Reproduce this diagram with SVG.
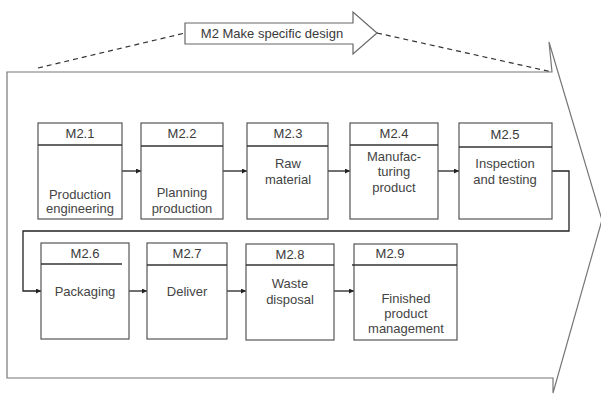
<svg xmlns="http://www.w3.org/2000/svg" width="601" height="403" viewBox="0 0 601 403">
<style>
.box{fill:#fff;stroke:#555;stroke-width:1.2}
.hl{stroke:#333;stroke-width:1.3}
.t{font-family:"Liberation Sans",Arial,sans-serif;font-size:13px;fill:#3a3a3a;text-anchor:middle}
.b{font-family:"Liberation Sans",Arial,sans-serif;font-size:13px;fill:#444;text-anchor:middle}
.c{fill:none;stroke:#222;stroke-width:1.3}
.d{fill:none;stroke:#333;stroke-width:1.2;stroke-dasharray:5,4}
</style>
<defs>
<marker id="ah" viewBox="0 0 10 10" refX="10" refY="5" markerWidth="5" markerHeight="5" orient="auto" markerUnits="userSpaceOnUse">
<path d="M0,0 L10,5 L0,10 z" fill="#222"/>
</marker>
</defs>
<rect width="601" height="403" fill="#fff"/>
<g id="bigarrow">
<path d="M7,72 L552,72 L549,42 L602,220 L553,393 L553,378 L7,378 Z" fill="#fff" stroke="#777" stroke-width="1.2"/>
</g>
<g id="toparrow">
<path d="M185,23 L353,23 L353,12 L377,33 L353,54 L353,44 L185,44 Z" fill="#fff" stroke="#666" stroke-width="1.2"/>
<text class="t" x="272" y="38">M2 Make specific design</text>
</g>
<g id="connectors">
<path class="d" d="M38,68 L185,33"/>
<path class="d" d="M377,33 L552,72"/>
<path class="c" d="M122,171 L141,171" marker-end="url(#ah)"/>
<path class="c" d="M223,171 L247,171" marker-end="url(#ah)"/>
<path class="c" d="M328,171 L350,171" marker-end="url(#ah)"/>
<path class="c" d="M438,171 L459,171" marker-end="url(#ah)"/>
<path class="c" d="M552,171 L569,171 L569,231 L23,231 L23,291 L41,291" marker-end="url(#ah)"/>
<path class="c" d="M129,291 L147,291" marker-end="url(#ah)"/>
<path class="c" d="M227,291 L246,291" marker-end="url(#ah)"/>
<path class="c" d="M334,291 L354,291" marker-end="url(#ah)"/>
</g>
<g id="m21">
<rect class="box" x="38" y="123" width="84" height="96"/>
<line class="hl" x1="38" y1="145" x2="122" y2="145"/>
<text class="t" x="80" y="138">M2.1</text>
<text class="b" x="80" y="199">Production</text>
<text class="b" x="80" y="213">engineering</text>
</g>
<g id="m22">
<rect class="box" x="141" y="123" width="82" height="96"/>
<line class="hl" x1="141" y1="146" x2="223" y2="146"/>
<text class="t" x="182" y="138">M2.2</text>
<text class="b" x="182" y="197">Planning</text>
<text class="b" x="182" y="213">production</text>
</g>
<g id="m23">
<rect class="box" x="247" y="123" width="81" height="96"/>
<line class="hl" x1="247" y1="146" x2="328" y2="146"/>
<text class="t" x="288" y="138">M2.3</text>
<text class="b" x="288" y="168">Raw</text>
<text class="b" x="288" y="184">material</text>
</g>
<g id="m24">
<rect class="box" x="350" y="123" width="88" height="96"/>
<line class="hl" x1="350" y1="145" x2="438" y2="145"/>
<text class="t" x="394" y="138">M2.4</text>
<text class="b" x="394" y="161">Manufac-</text>
<text class="b" x="394" y="176">turing</text>
<text class="b" x="394" y="192">product</text>
</g>
<g id="m25">
<rect class="box" x="459" y="123" width="93" height="96"/>
<line class="hl" x1="459" y1="147" x2="552" y2="147"/>
<text class="t" x="505" y="139">M2.5</text>
<text class="b" x="505" y="168">Inspection</text>
<text class="b" x="505" y="184">and testing</text>
</g>
<g id="m26">
<rect class="box" x="41" y="243" width="88" height="96"/>
<line class="hl" x1="41" y1="264" x2="122" y2="264"/>
<text class="t" x="85" y="258">M2.6</text>
<text class="b" x="85" y="296">Packaging</text>
</g>
<g id="m27">
<rect class="box" x="147" y="243" width="80" height="96"/>
<line class="hl" x1="147" y1="265" x2="227" y2="265"/>
<text class="t" x="187" y="258">M2.7</text>
<text class="b" x="187" y="296">Deliver</text>
</g>
<g id="m28">
<rect class="box" x="246" y="244" width="88" height="96"/>
<line class="hl" x1="246" y1="265" x2="334" y2="265"/>
<text class="t" x="290" y="259">M2.8</text>
<text class="b" x="290" y="288">Waste</text>
<text class="b" x="290" y="304">disposal</text>
</g>
<g id="m29">
<rect class="box" x="354" y="244" width="103" height="96"/>
<line class="hl" x1="352" y1="265" x2="457" y2="265"/>
<text class="t" x="390" y="258">M2.9</text>
<text class="b" x="406" y="303">Finished</text>
<text class="b" x="406" y="318">product</text>
<text class="b" x="406" y="333">management</text>
</g>
</svg>
